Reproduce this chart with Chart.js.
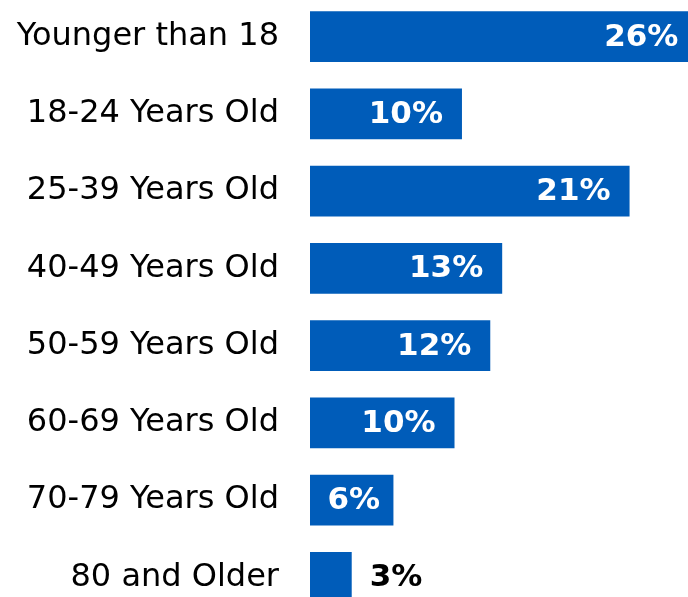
<!DOCTYPE html>
<html>
<head>
<meta charset="utf-8">
<script src="https://cdn.jsdelivr.net/npm/chart.js@4"></script>
<style>
  html, body { margin: 0; padding: 0; background: #fff; overflow: hidden; }
  #wrap { position: relative; width: 688px; height: 597px; overflow: hidden; }
  #myChart { position: absolute; left: 0; top: -2px; }
</style>
</head>
<body>
<div id="wrap">
  <canvas id="myChart" width="720" height="618"></canvas>
</div>
<script>
// age groups and share of each (percent)
const ageGroups = [
  "Younger than 18",
  "18-24 Years Old",
  "25-39 Years Old",
  "40-49 Years Old",
  "50-59 Years Old",
  "60-69 Years Old",
  "70-79 Years Old",
  "80 and Older"
];
const shares = [26.0, 10.2, 21.45, 12.9, 12.1, 9.7, 5.6, 2.8];

const barColor = "#005cb9";
const fontFamily = "'DejaVu Sans', Verdana, sans-serif";

// draws the % labels: white inside the bar, black outside when it doesn't fit
const valueLabels = {
  id: "valueLabels",
  afterDatasetsDraw(chart) {
    const ctx = chart.ctx;
    const meta = chart.getDatasetMeta(0);
    ctx.save();
    ctx.font = "bold 31px " + fontFamily;
    ctx.textBaseline = "middle";
    meta.data.forEach((bar, i) => {
      const text = Math.round(shares[i]) + "%";
      const tw = ctx.measureText(text).width;
      const w = bar.x - bar.base;
      if (w >= tw + 38) {
        ctx.fillStyle = "#fff";
        ctx.textAlign = "right";
        ctx.fillText(text, bar.x - 19, bar.y + 1);
      } else if (w >= tw + 8) {
        ctx.fillStyle = "#fff";
        ctx.textAlign = "center";
        ctx.fillText(text, bar.base + w / 2 + 2, bar.y + 1);
      } else {
        ctx.fillStyle = "#000";
        ctx.textAlign = "left";
        ctx.fillText(text, bar.x + 18, bar.y + 1);
      }
    });
    ctx.restore();
  }
};

const ctx = document.getElementById("myChart");

new Chart(ctx, {
  type: "bar",
  data: {
    labels: ageGroups,
    datasets: [
      {
        data: shares,
        backgroundColor: barColor,
        borderWidth: 0,
        barPercentage: 0.66,
        categoryPercentage: 1
      }
    ]
  },
  options: {
    indexAxis: "y",
    responsive: false,
    animation: false,
    layout: { padding: 0 },
    scales: {
      x: {
        display: false,
        min: 0,
        max: 27.52
      },
      y: {
        grid: { display: false, drawTicks: false },
        border: { display: false },
        afterFit(scale) {
          scale.width = 310;
          // no extra space above/below the bars
          scale.paddingTop = 0;
          scale.paddingBottom = 0;
        },
        ticks: {
          color: "#000",
          padding: 31,
          font: { family: fontFamily, size: 32 }
        }
      }
    },
    plugins: {
      legend: { display: false },
      tooltip: { enabled: false }
    }
  },
  plugins: [valueLabels]
});
</script>
</body>
</html>
